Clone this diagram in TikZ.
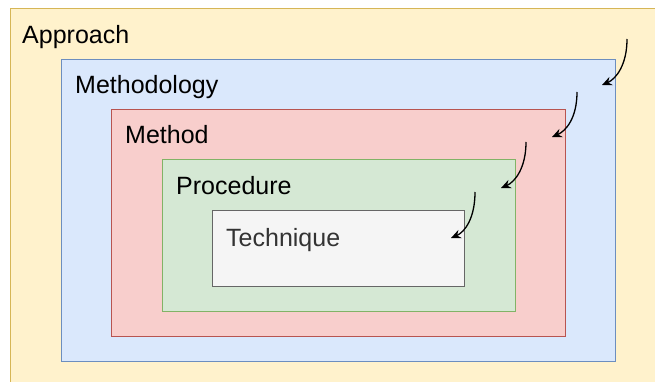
\documentclass[tikz,border=0pt]{standalone}
\usepackage{fontspec}
\setmainfont{Liberation Sans}
\usetikzlibrary{arrows.meta}
\definecolor{yfill}{HTML}{FFF2CC}\definecolor{ydraw}{HTML}{D6B656}
\definecolor{bfill}{HTML}{DAE8FC}\definecolor{bdraw}{HTML}{6C8EBF}
\definecolor{rfill}{HTML}{F8CECC}\definecolor{rdraw}{HTML}{B85450}
\definecolor{gfill}{HTML}{D5E8D4}\definecolor{gdraw}{HTML}{82B366}
\definecolor{tfill}{HTML}{F5F5F5}\definecolor{tdraw}{HTML}{666666}
\definecolor{ttext}{HTML}{333333}
\tikzset{
  layer/.style={rectangle, draw, line width=1pt, anchor=north west, inner sep=0pt},
  lbl/.style={anchor=base west, inner sep=0pt, font=\fontsize{25}{30}\selectfont},
  zoomin/.style={line width=1.3pt, -{Stealth[length=10pt,width=9pt,inset=3.5pt]}},
}
\begin{document}
\begin{tikzpicture}[x=1pt,y=-1pt]
\useasboundingbox (0,0) rectangle (655,382);
\clip (0,0) rectangle (655,382);
% nested layers
\node[layer, fill=yfill, draw=ydraw, minimum width=670pt, minimum height=400pt] (approach) at (10,8) {};
\node[layer, fill=bfill, draw=bdraw, minimum width=554pt, minimum height=302pt] (methodology) at (61,59) {};
\node[layer, fill=rfill, draw=rdraw, minimum width=454pt, minimum height=227pt] (method) at (111,109) {};
\node[layer, fill=gfill, draw=gdraw, minimum width=353pt, minimum height=152pt] (procedure) at (162,159) {};
\node[layer, fill=tfill, draw=tdraw, minimum width=252pt, minimum height=76pt] (technique) at (212,210) {};
% labels
\node[lbl] (tA) at (22,44) {Approach};
\node[lbl] (tB) at (75,94) {Methodology};
\node[lbl] (tC) at (125,144) {Method};
\node[lbl] (tD) at (176,194) {Procedure};
\node[lbl, text=ttext] (tE) at (226,246) {Technique};
% arrow end points
\coordinate (s1) at (627,39); \coordinate (e1) at (602,85);
\coordinate (s2) at (577,92); \coordinate (e2) at (552,137);
\coordinate (s3) at (526,142); \coordinate (e3) at (501,188);
\coordinate (s4) at (475,192); \coordinate (e4) at (451,238);
\foreach \i in {1,2,3,4}{
  \draw[zoomin] (s\i) .. controls +(0,26) and +(14,-6) .. (e\i);
}
\end{tikzpicture}
\end{document}
